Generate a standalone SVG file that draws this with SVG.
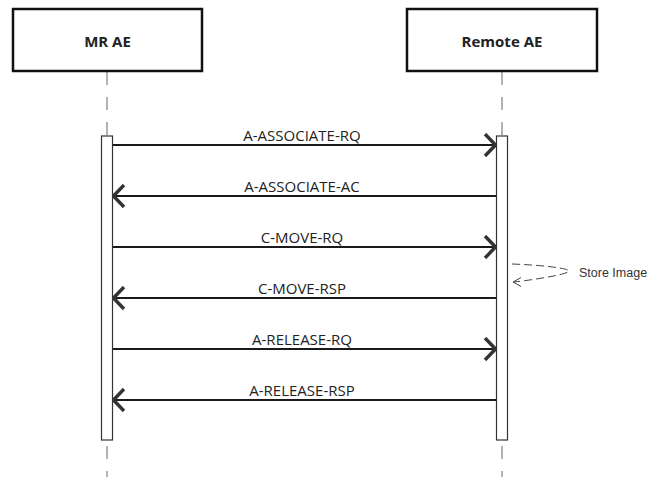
<svg xmlns="http://www.w3.org/2000/svg" width="649" height="477" viewBox="0 0 649 477">
<style>
.box{fill:#fff;stroke:#111;stroke-width:2.5}
.title{font-family:"Open Sans","Noto Sans",sans-serif;font-weight:bold;font-size:15px;fill:#222;text-anchor:middle}
.life{stroke:#a0a0a0;stroke-width:1.6;stroke-dasharray:13 12;fill:none}
.act{fill:#fff;stroke:#333;stroke-width:1.2}
.msg{stroke:#1a1a1a;stroke-width:2;fill:none}
.lbl{font-family:"Open Sans","Noto Sans",sans-serif;font-size:15px;fill:#222;text-anchor:middle}
.self{stroke:#444;stroke-width:1;stroke-dasharray:8 4;fill:none}
.selfhead{stroke:#444;stroke-width:1;fill:none}
.note{font-family:"Liberation Sans",Arial,sans-serif;font-size:12.5px;fill:#333}
</style>
<defs>
<marker id="ah" viewBox="0 0 14 24" refX="13" refY="12" markerWidth="14" markerHeight="24" markerUnits="userSpaceOnUse" orient="auto">
<path d="M2 1 L12.5 12 L2 23" fill="none" stroke="#333" stroke-width="3.4" stroke-linejoin="miter"/>
</marker>
</defs>
<g id="lifelines">
<line class="life" x1="107" y1="72" x2="107" y2="136"/>
<line class="life" x1="107" y1="446" x2="107" y2="477"/>
<line class="life" x1="502" y1="72" x2="502" y2="136"/>
<line class="life" x1="502" y1="446" x2="502" y2="477"/>
</g>
<g id="mr-ae">
<rect class="box" x="13" y="9" width="189" height="62"/>
<text class="title" x="107.5" y="47">MR AE</text>
<rect class="act" x="101.5" y="136" width="11" height="304"/>
</g>
<g id="remote-ae">
<rect class="box" x="407" y="9" width="190" height="62"/>
<text class="title" x="502" y="47">Remote AE</text>
<rect class="act" x="496.5" y="136" width="11" height="304"/>
</g>
<g id="connectors">
<line class="msg" x1="113" y1="145" x2="496" y2="145" marker-end="url(#ah)"/>
<text class="lbl" x="302" y="141">A-ASSOCIATE-RQ</text>
<line class="msg" x1="496" y1="196" x2="113" y2="196" marker-end="url(#ah)"/>
<text class="lbl" x="302" y="192">A-ASSOCIATE-AC</text>
<line class="msg" x1="113" y1="247" x2="496" y2="247" marker-end="url(#ah)"/>
<text class="lbl" x="302" y="243">C-MOVE-RQ</text>
<line class="msg" x1="496" y1="298" x2="113" y2="298" marker-end="url(#ah)"/>
<text class="lbl" x="302" y="294">C-MOVE-RSP</text>
<line class="msg" x1="113" y1="349" x2="496" y2="349" marker-end="url(#ah)"/>
<text class="lbl" x="302" y="345">A-RELEASE-RQ</text>
<line class="msg" x1="496" y1="400" x2="113" y2="400" marker-end="url(#ah)"/>
<text class="lbl" x="302" y="396">A-RELEASE-RSP</text>
<path class="self" d="M512 264 C540 265,568 268,569 271 C568 274,540 279,514 282"/>
<path class="selfhead" d="M521 277.5 L513 282 L521 286.5"/>
<text class="note" x="579" y="277">Store Image</text>
</g>
</svg>
